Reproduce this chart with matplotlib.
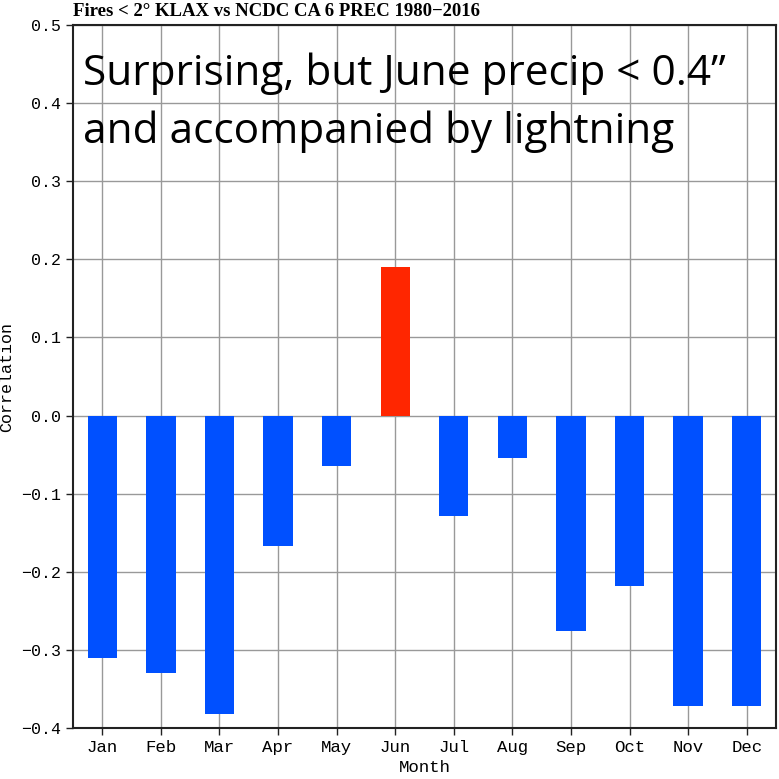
import matplotlib.pyplot as plt

months = ["Jan", "Feb", "Mar", "Apr", "May", "Jun",
          "Jul", "Aug", "Sep", "Oct", "Nov", "Dec"]
corr = [-0.310, -0.330, -0.382, -0.167, -0.064, 0.190,
        -0.129, -0.054, -0.276, -0.218, -0.372, -0.372]
yticks = [-0.4, -0.3, -0.2, -0.1, 0.0, 0.1, 0.2, 0.3, 0.4, 0.5]

mono = "Liberation Mono"

fig = plt.figure(figsize=(7.79, 7.79), dpi=100)
ax = fig.add_axes([73 / 779, 51 / 779, 703 / 779, 703 / 779])

x = list(range(1, 13))
colors = ["#ff2600" if v > 0 else "#0050ff" for v in corr]
ax.bar(x, corr, width=0.5, color=colors, zorder=3)

ax.set_xlim(0.5, 12.5)
ax.set_ylim(-0.4, 0.5)
ax.set_xticks(x)
ax.set_xticklabels(months, fontfamily=mono, fontsize=12.5)
ax.set_yticks(yticks)
ax.set_yticklabels([f"{t:.1f}".replace("-", "\u2212") for t in yticks],
                   fontfamily=mono, fontsize=12)
ax.tick_params(direction="out", length=5, width=1, color="#222222")

ax.grid(True, color="#999999", linewidth=1, zorder=0)
for s in ax.spines.values():
    s.set_linewidth(1.5)
    s.set_color("#222222")

ax.set_xlabel("Month", fontfamily=mono, fontsize=12.5, labelpad=4)
ax.set_ylabel("Correlation", fontfamily=mono, fontsize=12, labelpad=5)
fig.text(73 / 779, 1 - 12 / 779, "Fires < 2\u00b0 KLAX vs NCDC CA 6 PREC 1980\u22122016",
         fontfamily="Liberation Serif", fontweight="bold", fontsize=13.5,
         va="center", ha="left")

# annotation over the grid, two lines
note = ["Surprising, but June precip < 0.4\u201d", "and accompanied by lightning"]
for i, line in enumerate(note):
    fig.text(83 / 779, 1 - (85 + 58 * i) / 779, line,
             fontfamily="Open Sans", fontsize=30.5,
             va="baseline", ha="left", zorder=5)

fig.savefig("out.png", dpi=100)
